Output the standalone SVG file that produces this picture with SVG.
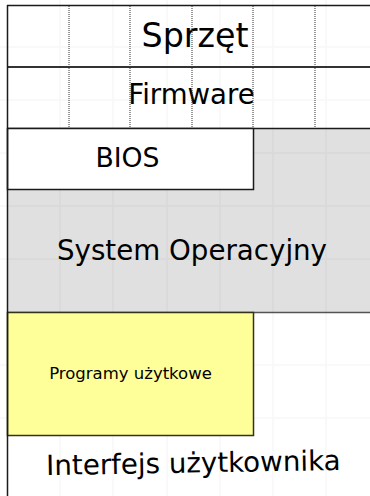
<svg xmlns="http://www.w3.org/2000/svg" width="370" height="496" viewBox="0 0 370 496">
  <style>
    .t { font-family: "DejaVu Sans", "Liberation Sans", sans-serif; fill: #000; text-anchor: middle; }
    .frame { stroke: #1a1a1a; stroke-width: 1.5; fill: none; }
    .dot { stroke: #333; stroke-width: 1; stroke-dasharray: 1 1; fill: none; }
    .grid { stroke: #000; stroke-opacity: 0.03; stroke-width: 1.5; fill: none; }
  </style>
  <rect x="0" y="0" width="370" height="496" fill="#fff"/>
  <g id="os">
    <rect x="7.5" y="128.5" width="364" height="184" fill="#e0e0e0"/>
    <line x1="7" y1="312.5" x2="370" y2="312.5" stroke="#555" stroke-width="1.5"/>
    <text class="t" x="192" y="260" font-size="27.7">System Operacyjny</text>
  </g>
  <g id="grid">
    <path class="grid" d="M60 0V496M113 0V496M167 0V496M220 0V496M273 0V496M326 0V496M0 47H370M0 100H370M0 153H370M0 206H370M0 259H370M0 365H370M0 418H370"/>
  </g>
  <g id="sprzet">
    <line class="frame" x1="7" y1="5.5" x2="370" y2="5.5"/>
    <text class="t" x="195" y="47" font-size="33.3">Sprzęt</text>
  </g>
  <g id="firmware">
    <line x1="7" y1="67" x2="370" y2="67" stroke="#333" stroke-width="2"/>
    <text class="t" x="191.5" y="104" font-size="27.6">Firmware</text>
  </g>
  <g id="dividers">
    <path class="dot" d="M69 6V128M130 6V128M192 6V128M253 6V128M315 6V128"/>
    <line class="frame" x1="7" y1="128.5" x2="370" y2="128.5"/>
  </g>
  <g id="bios">
    <rect x="7.5" y="128.5" width="246" height="61" fill="#fff" stroke="#1a1a1a" stroke-width="1.5"/>
    <text class="t" x="127.5" y="166.5" font-size="26.7">BIOS</text>
  </g>
  <g id="programy">
    <rect x="7.5" y="312.5" width="246" height="123" fill="#ffff99" stroke="#33331a" stroke-width="1.5"/>
    <text class="t" x="130.5" y="379" font-size="16.5">Programy użytkowe</text>
  </g>
  <g id="interfejs">
    <text class="t" x="193.5" y="472.5" font-size="27.7" transform="rotate(-1 193.5 472.5)">Interfejs użytkownika</text>
  </g>
  <line class="frame" x1="7.5" y1="5" x2="7.5" y2="496"/>
</svg>
